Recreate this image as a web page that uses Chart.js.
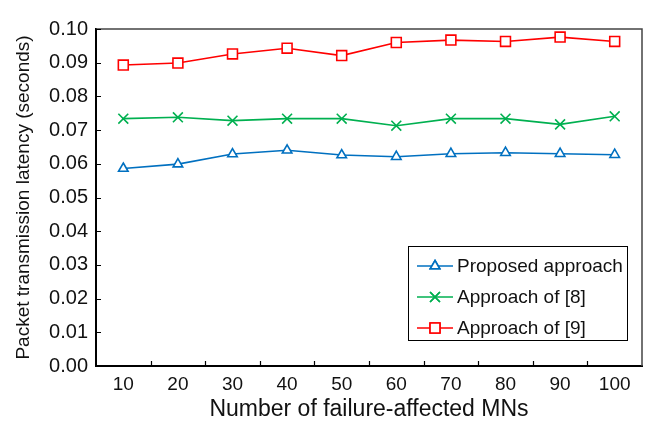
<!DOCTYPE html>
<html>
<head>
<meta charset="utf-8">
<script src="https://cdn.jsdelivr.net/npm/chart.js@4.4.1/dist/chart.umd.min.js"></script>
<style>
  html, body { margin: 0; padding: 0; background: #fff; }
  #wrap { width: 652px; height: 423px; }
</style>
</head>
<body>
<div id="wrap"><canvas id="grafica"></canvas></div>
<script>
const categorias = ['10', '20', '30', '40', '50', '60', '70', '80', '90', '100'];
const propuesto = [0.0586, 0.0599, 0.0629, 0.0640, 0.0626, 0.0621, 0.0630, 0.0633, 0.0630, 0.0627];
const enfoque8 = [0.0734, 0.0738, 0.0728, 0.0734, 0.0734, 0.0713, 0.0734, 0.0734, 0.0717, 0.0741];
const enfoque9 = [0.0893, 0.0899, 0.0926, 0.0943, 0.0921, 0.0960, 0.0967, 0.0963, 0.0976, 0.0963];
const etiquetas = ['Proposed approach', 'Approach of [8]', 'Approach of [9]'];

const fuente = 'Liberation Sans, Arial, sans-serif';

function serie(label, data, color, estilo, radio) {
  return {
    label,
    data,
    borderColor: color,
    backgroundColor: color,
    borderWidth: 1.6,
    pointStyle: estilo,
    pointRadius: radio,
    pointBorderWidth: 1.6,
    pointBackgroundColor: '#fff',
    pointBorderColor: color,
    fill: false,
    tension: 0
  };
}

// Ticks hacia dentro, marco y leyenda dentro del área
const extras = {
  id: 'extras',
  afterDraw(chart) {
    const ctx = chart.ctx;
    const a = chart.chartArea;
    const x = chart.scales.x;
    const y = chart.scales.y;
    ctx.save();

    // marco superior y derecho
    ctx.strokeStyle = '#444';
    ctx.lineWidth = 1.5;
    ctx.beginPath();
    ctx.moveTo(a.left, a.top);
    ctx.lineTo(a.right, a.top);
    ctx.lineTo(a.right, a.bottom);
    ctx.stroke();

    // ticks
    ctx.strokeStyle = '#000';
    ctx.lineWidth = 1.2;
    ctx.beginPath();
    y.ticks.forEach(t => {
      const py = Math.round(y.getPixelForValue(t.value)) + 0.5;
      ctx.moveTo(a.left, py);
      ctx.lineTo(a.left + 5, py);
    });
    for (let i = 1; i < categorias.length; i++) {
      const px = Math.round((x.getPixelForTick(i - 1) + x.getPixelForTick(i)) / 2) + 0.5;
      ctx.moveTo(px, a.bottom);
      ctx.lineTo(px, a.bottom - 5);
    }
    ctx.stroke();

    // leyenda
    const bx = a.right - 234, by = a.top + 217, bw = 219, bh = 94;
    ctx.fillStyle = '#fff';
    ctx.fillRect(bx, by, bw, bh);
    ctx.strokeStyle = '#000';
    ctx.lineWidth = 1;
    ctx.strokeRect(bx + 0.5, by + 0.5, bw, bh);
    ctx.font = '19px ' + fuente;
    ctx.textBaseline = 'middle';
    chart.data.datasets.forEach((ds, i) => {
      const cy = by + 20 + i * 31;
      ctx.strokeStyle = ds.borderColor;
      ctx.lineWidth = 1.6;
      ctx.beginPath();
      ctx.moveTo(bx + 9, cy);
      ctx.lineTo(bx + 45, cy);
      ctx.stroke();
      Chart.helpers.drawPoint(ctx, {
        pointStyle: ds.pointStyle,
        radius: ds.pointRadius,
        borderWidth: 1.6
      }, bx + 27, cy);
      ctx.fillStyle = '#fff';
      ctx.fill();
      ctx.stroke();
      ctx.fillStyle = '#111';
      ctx.fillText(ds.label, bx + 49, cy + 1);
    });
    ctx.restore();
  }
};

new Chart(document.getElementById('grafica'), {
  type: 'line',
  data: {
    labels: categorias,
    datasets: [
      serie(etiquetas[0], propuesto, '#0070C0', 'triangle', 5.5),
      serie(etiquetas[1], enfoque8, '#00B050', 'crossRot', 7),
      serie(etiquetas[2], enfoque9, '#FF0000', 'rect', 7)
    ]
  },
  options: {
    responsive: true,
    maintainAspectRatio: false,
    animation: false,
    layout: { padding: { left: 0, top: 29, right: 10, bottom: 0 } },
    plugins: {
      legend: { display: false },
      tooltip: { enabled: false }
    },
    scales: {
      x: {
        offset: true,
        grid: { display: false, drawTicks: false },
        border: { display: true, color: '#000', width: 2 },
        ticks: { color: '#111', font: { family: fuente, size: 19 }, padding: 7, maxRotation: 0 },
        title: {
          display: true,
          text: 'Number of failure-affected MNs',
          color: '#111',
          font: { family: fuente, size: 23 },
          padding: { top: 0, bottom: 0 }
        },
        afterFit(scale) { scale.height = 57; }
      },
      y: {
        min: 0,
        max: 0.1,
        grid: { display: false, drawTicks: false },
        border: { display: true, color: '#000', width: 2 },
        ticks: {
          stepSize: 0.01,
          color: '#111',
          font: { family: fuente, size: 20 },
          padding: 8,
          callback: v => Number(v).toFixed(2)
        },
        title: {
          display: true,
          text: 'Packet transmission latency (seconds)',
          color: '#111',
          font: { family: fuente, size: 19 },
          padding: { top: 12, bottom: 0 }
        },
        afterFit(scale) { scale.width = 96; }
      }
    }
  },
  plugins: [extras]
});
</script>
</body>
</html>
